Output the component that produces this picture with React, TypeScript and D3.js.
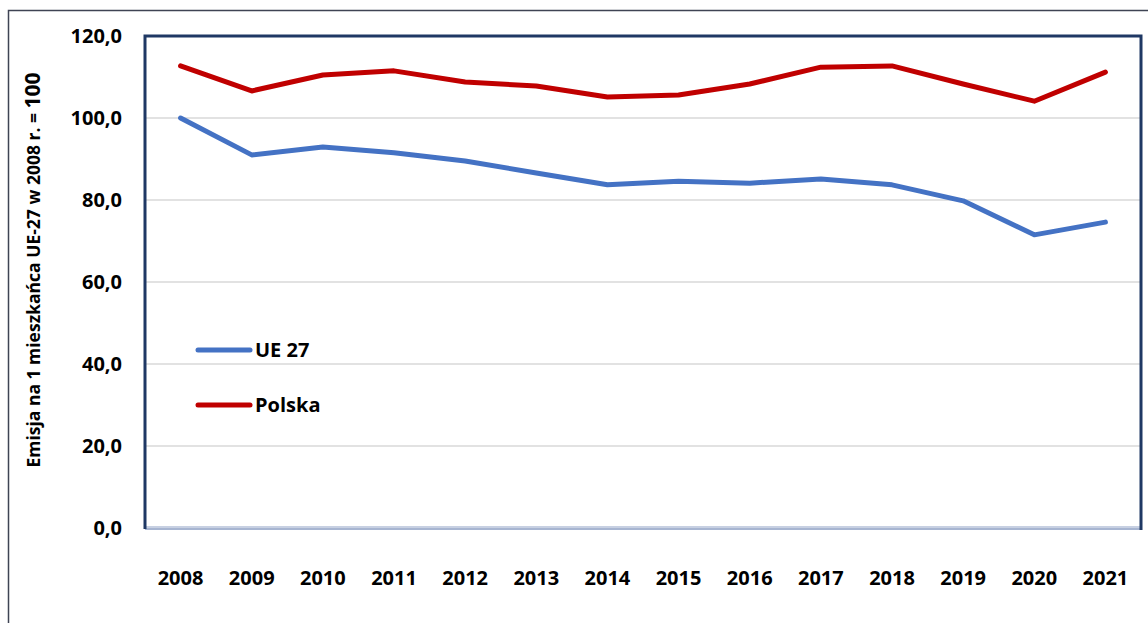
import React from "react";
import * as d3 from "d3";

const years = ["2008","2009","2010","2011","2012","2013","2014","2015","2016","2017","2018","2019","2020","2021"];
const ue27 = [100.0, 91.0, 92.9, 91.5, 89.5, 86.6, 83.7, 84.6, 84.1, 85.1, 83.7, 79.8, 71.5, 74.6];
const polska = [112.7, 106.6, 110.5, 111.5, 108.8, 107.8, 105.1, 105.6, 108.3, 112.4, 112.7, 108.3, 104.1, 111.2];
const yTicks = [0, 20, 40, 60, 80, 100, 120];
const seriesNames = ["UE 27", "Polska"];
const seriesColors = ["#4472C4", "#C00000"];

const W = 1148, H = 623;
const plot = { left: 145, top: 36, right: 1141, bottom: 528 };
const font = "'Open Sans', sans-serif";

export default function App() {
  const x = d3.scaleBand().domain(years).range([plot.left, plot.right]);
  const y = d3.scaleLinear().domain([0, 120]).range([plot.bottom, plot.top]);
  const line = d3.line<number>()
    .x((_, i) => (x(years[i]) as number) + x.bandwidth() / 2)
    .y((d) => y(d));
  const data = [ue27, polska];
  const fmt = (v: number) => v.toFixed(1).replace(".", ",");
  return (
    <svg width={W} height={H} style={{ position: "absolute", left: 0, top: 0, background: "#fff" }}>
      <rect x={8.5} y={10.5} width={W + 20} height={H + 20} fill="#fff" stroke="#3f4454" strokeWidth={1.5} />
      {yTicks.filter(t => t > 0 && t < 120).map(t => (
        <line key={t} x1={plot.left} x2={plot.right} y1={y(t)} y2={y(t)} stroke="#d9d9d9" strokeWidth={1.5} />
      ))}
      <line x1={plot.left} x2={plot.right} y1={plot.bottom - 1} y2={plot.bottom - 1} stroke="#b4c0d8" strokeWidth={1.5} />
      <line x1={plot.left} x2={plot.right} y1={plot.bottom + 1} y2={plot.bottom + 1} stroke="#8a9cc2" strokeWidth={1.5} />
      <path d={`M${plot.left},${plot.bottom + 1}V${plot.top}H${plot.right}V${plot.bottom + 2}`} fill="none" stroke="#1F3864" strokeWidth={3} />
      {data.map((s, i) => (
        <path key={i} d={line(s) as string} fill="none" stroke={seriesColors[i]} strokeWidth={5} strokeLinejoin="round" strokeLinecap="round" />
      ))}
      {yTicks.map(t => (
        <text key={t} x={122} y={y(t)} dy="0.36em" textAnchor="end" fontFamily={font} fontWeight="bold" fontSize={20} fill="#000">{fmt(t)}</text>
      ))}
      {years.map(yr => (
        <text key={yr} x={(x(yr) as number) + x.bandwidth() / 2} y={585} textAnchor="middle" fontFamily={font} fontWeight="bold" fontSize={20} fill="#000">{yr}</text>
      ))}
      {seriesNames.map((n, i) => (
        <g key={n} transform={`translate(0,${350 + i * 55})`}>
          <line x1={198} x2={250} y1={0} y2={0} stroke={seriesColors[i]} strokeWidth={5} strokeLinecap="round" />
          <text x={255} y={0} dy="0.36em" fontFamily={font} fontWeight="bold" fontSize={20} fill="#000">{n}</text>
        </g>
      ))}
      <text transform="translate(40,270) rotate(-90)" textAnchor="middle" fontFamily={font} fontWeight="bold" fontSize={17.5} fill="#000">
        Emisja na 1 mieszkańca UE-27 w 2008 r. = <tspan fontSize={21}>100</tspan>
      </text>
    </svg>
  );
}
